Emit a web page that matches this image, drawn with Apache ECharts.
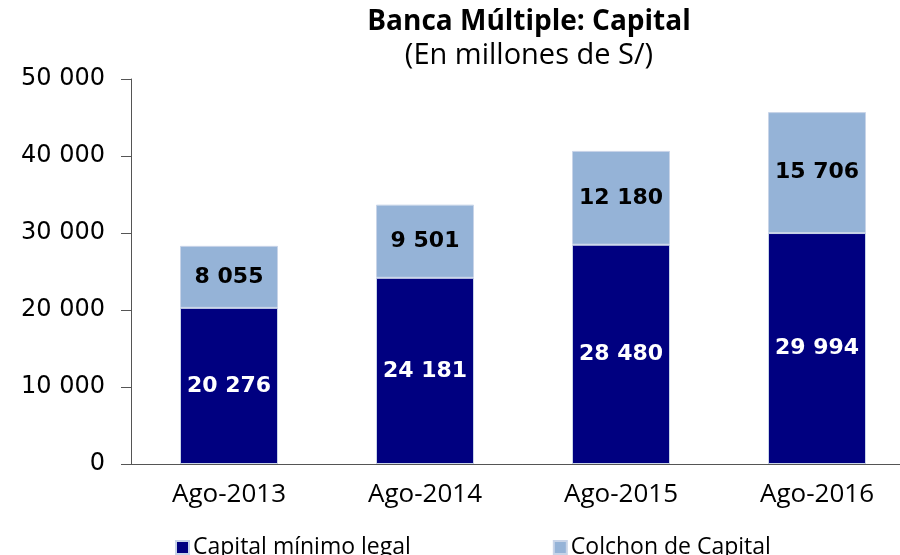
<!DOCTYPE html>
<html>
<head>
<meta charset="utf-8">
<script src="https://cdn.jsdelivr.net/npm/echarts@6/dist/echarts.min.js"></script>
<style>
  html, body { margin: 0; padding: 0; background: #fff; overflow: hidden; }
  /* el eje sigue mas alla del borde derecho, como en el original */
  #chart { width: 916px; height: 555px; }
</style>
</head>
<body>
<div id="chart"></div>
<script>
  // categorias y valores (millones de S/)
  var categorias = ['Ago-2013', 'Ago-2014', 'Ago-2015', 'Ago-2016']
  var capitalMinimo = [20276, 24181, 28480, 29994]
  var colchonCapital = [8055, 9501, 12180, 15706]
  var nombres = ['Capital mínimo legal', 'Colchon de Capital']

  var fmt = function (v) {
    return String(v).replace(/\B(?=(\d{3})+(?!\d))/g, ' ')
  }

  var chart = echarts.init(document.getElementById('chart'))
  var sansLabel = '"Open Sans", sans-serif'
  var verdana = '"DejaVu Sans", Verdana, sans-serif'

  chart.setOption({
    animation: false,
    title: {
      text: 'Banca Múltiple: Capital',
      subtext: '(En millones de S/)',
      left: 524,
      textAlign: 'center',
      top: 3,
      itemGap: 5,
      textStyle: { fontFamily: sansLabel, fontWeight: 'bold', fontSize: 28, color: '#000' },
      subtextStyle: { fontFamily: sansLabel, fontSize: 29, color: '#000' }
    },
    legend: {
      data: nombres,
      left: 170,
      bottom: -9,
      itemWidth: 13,
      itemHeight: 13,
      itemGap: 142,
      icon: 'rect',
      textStyle: { fontFamily: sansLabel, fontSize: 23, color: '#000', padding: [0, 0, 0, -1] }
    },
    grid: { left: 131, top: 79, bottom: 91, right: 1 },
    xAxis: {
      type: 'category',
      data: categorias,
      axisLine: { lineStyle: { color: '#555', width: 1 } },
      axisTick: { length: 12, lineStyle: { color: '#555' } },
      axisLabel: { fontFamily: sansLabel, fontSize: 26, color: '#000', margin: 18 }
    },
    yAxis: {
      type: 'value',
      min: 0,
      max: 50000,
      interval: 10000,
      splitLine: { show: false },
      axisLine: { show: true, lineStyle: { color: '#555' } },
      axisTick: { show: true, length: 10, lineStyle: { color: '#555' } },
      axisLabel: {
        fontFamily: verdana, fontSize: 24, color: '#000', margin: 26,
        formatter: fmt
      }
    },
    series: [
      {
        name: nombres[0],
        type: 'bar',
        stack: 'total',
        barWidth: '50%',
        data: capitalMinimo,
        itemStyle: { color: '#000080', borderColor: '#c8d4e8', borderWidth: 1 },
        label: {
          show: true, position: 'inside', color: '#fff',
          fontFamily: verdana, fontWeight: 'bold', fontSize: 22,
          formatter: function (p) { return fmt(p.value) }
        }
      },
      {
        name: nombres[1],
        type: 'bar',
        stack: 'total',
        data: colchonCapital,
        itemStyle: { color: '#95b3d7', borderColor: '#c8d4e8', borderWidth: 1 },
        label: {
          show: true, position: 'inside', color: '#000',
          fontFamily: verdana, fontWeight: 'bold', fontSize: 22,
          formatter: function (p) { return fmt(p.value) }
        }
      }
    ]
  })
</script>
</body>
</html>
